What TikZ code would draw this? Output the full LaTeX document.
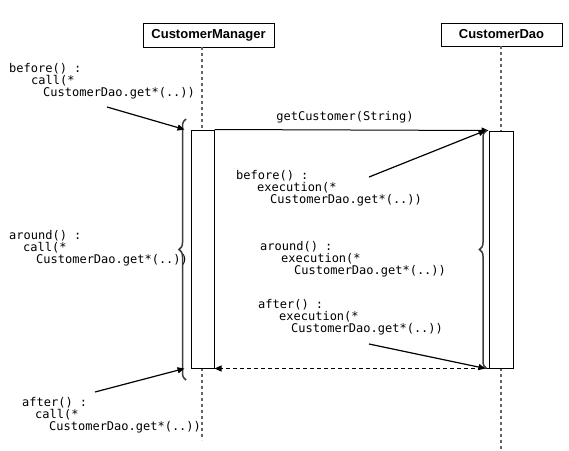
\documentclass[tikz,border=0pt]{standalone}
\usepackage{fontspec}
\newfontfamily\hdrfont{Liberation Sans}
\newfontfamily\codefont{DejaVu Sans Mono}
\usepackage{tikz}
\usetikzlibrary{arrows.meta,positioning,calc,decorations.pathreplacing}
\definecolor{lifegray}{RGB}{100,100,100}
\definecolor{bracegray}{RGB}{60,60,60}

\begin{document}
\begin{tikzpicture}[
    x=1pt, y=-1pt,
    >={Triangle[length=7pt,width=6pt]},
    head/.style={rectangle, draw, line width=1pt, fill=white, inner sep=0pt,
                 font=\hdrfont\fontsize{13}{13}\selectfont\bfseries},
    act/.style={rectangle, draw, line width=1pt, fill=white, inner sep=0pt,
                minimum width=23pt},
    code/.style={inner sep=0pt, align=left, anchor=north west,
                 font=\codefont\fontsize{12}{12}\selectfont},
    life/.style={lifegray, line width=1.5pt, dash pattern=on 3pt off 3pt},
    msg/.style={->, line width=1pt},
    ret/.style={->, line width=1pt, dash pattern=on 4pt off 3pt},
    note/.style={->, line width=1.2pt},
    brc/.style={bracegray, line width=1.5pt, decorate,
                decoration={brace, amplitude=7pt}}
]
\useasboundingbox (0,0) rectangle (569,450);

% Heads
\node[head, minimum width=131pt, minimum height=24pt] (mgr) at (208.5,35) {CustomerManager};
\node[head, minimum width=121pt, minimum height=23pt] (dao) at (501.5,34.5) {CustomerDao};

% Lifelines
\coordinate (mgrEnd) at (202,440);
\coordinate (daoEnd) at (501,450);
\draw[life] (202,47) -- (202,130);
\draw[life] (202,368) -- (mgrEnd);
\draw[life] (501,46) -- (501,131);
\draw[life] (501,368) -- (daoEnd);

% Activations
\node[act, minimum height=238pt] (mgrAct) at (202.5,249) {};
\node[act, minimum width=24pt, minimum height=237pt] (daoAct) at (501,249.5) {};

% Call and return
\draw[msg] (mgrAct.north east) -- (daoAct.north west);
\node[code, anchor=center] (msgLbl) at (345,117) {getCustomer(String)};
\draw[ret] (daoAct.south west) -- (mgrAct.south east);

% Braces
\coordinate (mgrBrTop) at (186,119);
\coordinate (mgrBrBot) at (186,380);
\draw[brc] (mgrBrBot) -- (mgrBrTop);
\draw[brc] ([xshift=-2pt]daoAct.south west) -- ([xshift=-2pt]daoAct.north west);

% Advice on the caller
\node[code] (bfCall) at (9,63) {before() :\\\hspace*{22pt}call(*\\\hspace*{34pt}CustomerDao.get*(..))};
\node[code] (arCall) at (9,230) {around() :\\\hspace*{14pt}call(*\\\hspace*{27pt}CustomerDao.get*(..))};
\node[code] (afCall) at (22,397) {after() :\\\hspace*{13pt}call(*\\\hspace*{27pt}CustomerDao.get*(..))};

% Advice on the callee
\node[code] (bfExec) at (236,170) {before() :\\\hspace*{21pt}execution(*\\\hspace*{34pt}CustomerDao.get*(..))};
\node[code] (arExec) at (260,241) {around() :\\\hspace*{21pt}execution(*\\\hspace*{34pt}CustomerDao.get*(..))};
\node[code] (afExec) at (258,299) {after() :\\\hspace*{21pt}execution(*\\\hspace*{33pt}CustomerDao.get*(..))};

% Pointers
\coordinate (bfCallTail) at (107,107);
\coordinate (afCallTail) at (95,392);
\coordinate (bfExecTail) at (369,177);
\coordinate (afExecTail) at (369,344);
\draw[note] (bfCallTail) -- ([xshift=-6pt]mgrAct.north west);
\draw[note] (afCallTail) -- ([xshift=-6pt]mgrAct.south west);
\draw[note] (bfExecTail) -- ([xshift=-3pt]daoAct.north west);
\draw[note] (afExecTail) -- ([xshift=-3pt]daoAct.south west);
\end{tikzpicture}
\end{document}
